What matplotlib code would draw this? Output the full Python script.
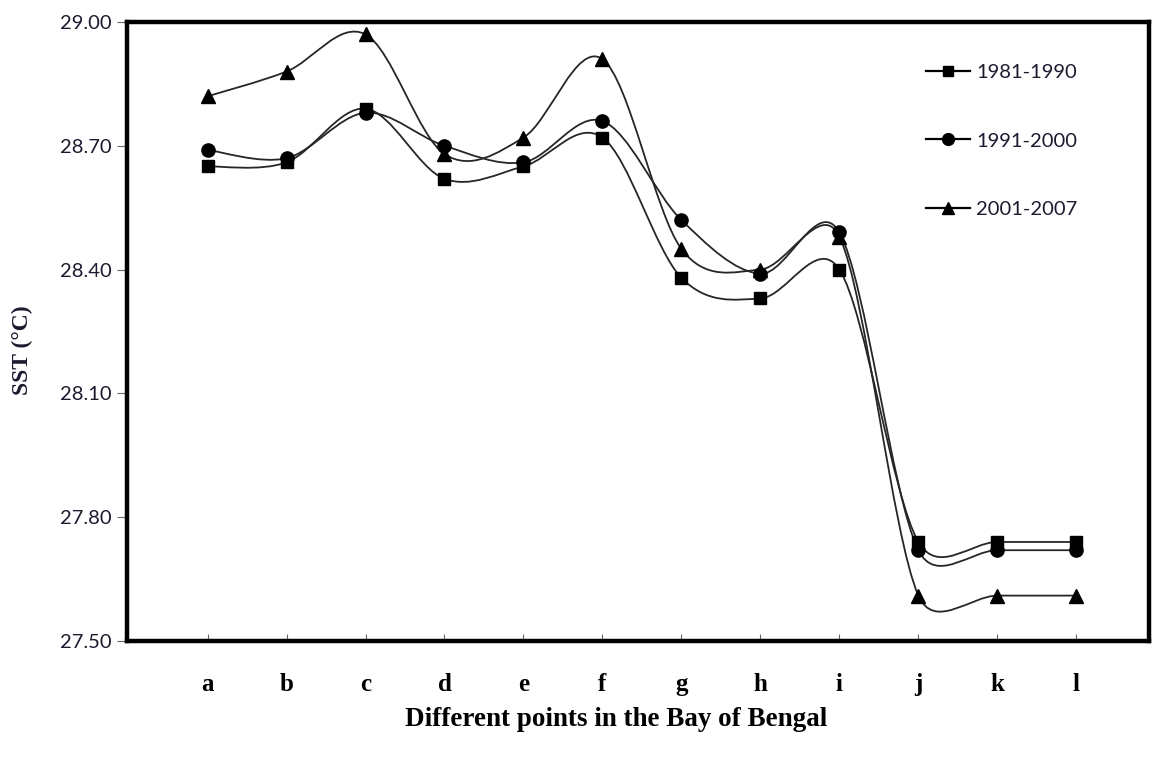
import matplotlib
matplotlib.use("Agg")
import matplotlib.pyplot as plt
from matplotlib.path import Path
from matplotlib.patches import PathPatch
from matplotlib.lines import Line2D
import numpy as np

# Sampling points along the bay and mean SST for each decade
points = ["a", "b", "c", "d", "e", "f", "g", "h", "i", "j", "k", "l"]
sst_1981_1990 = [28.65, 28.66, 28.79, 28.62, 28.65, 28.72, 28.38, 28.33, 28.40, 27.74, 27.74, 27.74]
sst_1991_2000 = [28.69, 28.67, 28.78, 28.70, 28.66, 28.76, 28.52, 28.39, 28.49, 27.72, 27.72, 27.72]
sst_2001_2007 = [28.82, 28.88, 28.97, 28.68, 28.72, 28.91, 28.45, 28.40, 28.48, 27.61, 27.61, 27.61]
series_labels = ["1981-1990", "1991-2000", "2001-2007"]
y_ticks = [27.50, 27.80, 28.10, 28.40, 28.70, 29.00]

W, H = 1154, 758
fig = plt.figure(figsize=(W / 100, H / 100), dpi=100)
ax = fig.add_axes([127 / W, (H - 641) / H, (1149 - 127) / W, (641 - 22) / H])

tick_font = "Lato"
serif = "Liberation Serif"
text_col = "#1b1b30"
line_col = "#262626"

ax.set_xlim(-1.02, 11.92)
ax.set_ylim(27.5, 29.0)


def smooth_path(xs, ys):
    """Smoothed polyline: cubic Bezier segments with 1/6 tangents,
    each handle kept to at most half of its segment (in screen space)."""
    disp = ax.transData.transform(np.column_stack([xs, ys]).astype(float))
    n = len(disp)
    verts = [disp[0]]
    codes = [Path.MOVETO]
    for i in range(n - 1):
        p0 = disp[max(i - 1, 0)]
        p1 = disp[i]
        p2 = disp[i + 1]
        p3 = disp[min(i + 2, n - 1)]
        d12 = np.hypot(*(p2 - p1))
        d02 = np.hypot(*(p2 - p0))
        d13 = np.hypot(*(p3 - p1))
        f1 = f2 = 1.0 / 6.0
        if d02 / 6.0 > d12 / 2.0 and d02 > 0:
            f1 = d12 / (2.0 * d02)
        if d13 / 6.0 > d12 / 2.0 and d13 > 0:
            f2 = d12 / (2.0 * d13)
        c1 = p1 + (p2 - p0) * f1
        c2 = p2 - (p3 - p1) * f2
        verts += [c1, c2, p2]
        codes += [Path.CURVE4] * 3
    data_verts = ax.transData.inverted().transform(np.array(verts))
    return Path(data_verts, codes)


x = np.arange(len(points))
all_series = [sst_1981_1990, sst_1991_2000, sst_2001_2007]
markers = ["s", "o", "^"]
msizes = [8.5, 9.5, 9.5]

for vals, mk, ms in zip(all_series, markers, msizes):
    ax.add_patch(PathPatch(smooth_path(x, vals), facecolor="none",
                           edgecolor=line_col, lw=1.3, zorder=2))
    ax.plot(x, vals, linestyle="none", marker=mk, markersize=ms,
            color="black", zorder=3)

ax.set_xticks(x)
ax.set_xticklabels(points, fontfamily=serif, fontweight="bold", fontsize=18)
ax.set_yticks(y_ticks)
ax.set_yticklabels([f"{v:.2f}" for v in y_ticks], fontfamily=tick_font,
                   fontsize=14.5, color=text_col)
ax.tick_params(axis="x", direction="in", length=5, width=0.8,
               color="#666666", pad=23)
ax.tick_params(axis="y", direction="out", length=7, width=0.8,
               color="#666666", pad=4)

for sp in ax.spines.values():
    sp.set_linewidth(3.2)
    sp.set_color("black")

ax.set_ylabel("SST (°C)", fontfamily=serif, fontweight="bold", fontsize=17,
              color=text_col)
ax.yaxis.set_label_coords((22 - 127) / 1022, (641 - 350) / 619)
ax.yaxis.label.set_va("center")
ax.set_xlabel("Different points in the Bay of Bengal", fontfamily=serif,
              fontweight="bold", fontsize=19.5, color="black")
ax.xaxis.set_label_coords(0.479, (641 - 719) / 619)
ax.xaxis.label.set_va("center")

handles = [Line2D([], [], color="black", lw=1.6, marker=m, markersize=s - 1)
           for m, s in zip(markers, msizes)]
leg = ax.legend(handles, series_labels, loc="upper left",
                bbox_to_anchor=(926 / W, 1 - 64 / H),
                bbox_transform=fig.transFigure, frameon=False,
                borderpad=0, borderaxespad=0, handlelength=2.2,
                handletextpad=0.3, labelspacing=2.55,
                prop={"family": tick_font, "size": 14.5})
for t in leg.get_texts():
    t.set_color(text_col)

fig.savefig("out.png", dpi=100, facecolor="white")
